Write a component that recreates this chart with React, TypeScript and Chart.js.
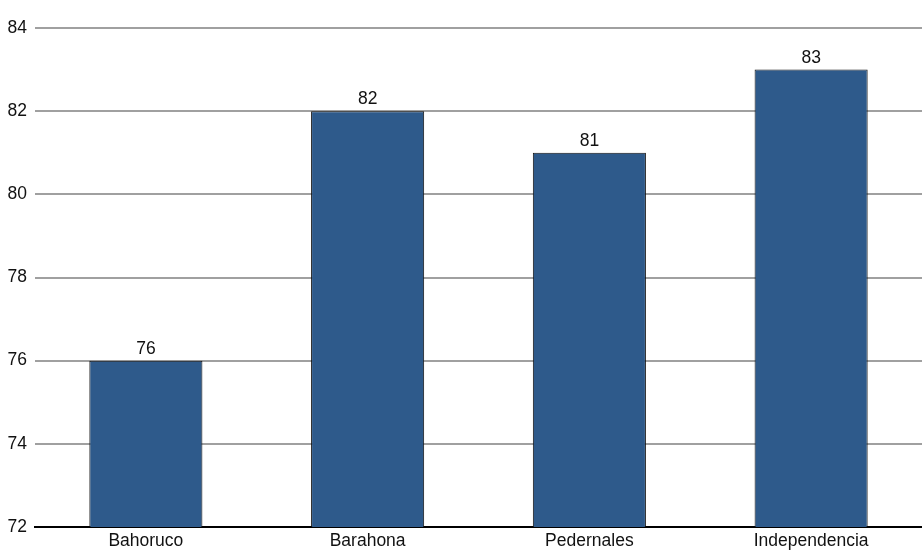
import React, { useEffect, useRef } from "react";
import { Chart, registerables } from "chart.js";

Chart.register(...registerables);

const categories = ["Bahoruco", "Barahona", "Pedernales", "Independencia"];
const values = [76, 82, 81, 83];
const yMin = 72;
const yMax = 84;
const yStep = 2;

const FONT = "'Liberation Sans', Arial, sans-serif";
const SIZE = 17.5;

const valueLabels = {
  id: "valueLabels",
  afterDatasetsDraw(chart: any) {
    const ctx = chart.ctx;
    const meta = chart.getDatasetMeta(0);
    ctx.save();
    ctx.font = `${SIZE}px ${FONT}`;
    ctx.fillStyle = "#111";
    ctx.textAlign = "center";
    ctx.textBaseline = "bottom";
    meta.data.forEach((bar: any, i: number) => {
      ctx.fillText(String(values[i]), bar.x, bar.y - 3);
    });
    ctx.restore();
  },
};

export default function App() {
  const ref = useRef<HTMLCanvasElement | null>(null);
  useEffect(() => {
    document.body.style.margin = "0";
    const chart = new Chart(ref.current as HTMLCanvasElement, {
      type: "bar",
      data: {
        labels: categories,
        datasets: [
          {
            data: values,
            backgroundColor: "#2E5A8B",
            borderColor: "#111",
            borderWidth: 1,
            barPercentage: 0.51,
            categoryPercentage: 1,
          },
        ],
      },
      plugins: [valueLabels],
      options: {
        animation: false,
        responsive: false,
        maintainAspectRatio: false,
        layout: { padding: { top: 28, left: 0, right: 0, bottom: 0 } },
        plugins: { legend: { display: false }, tooltip: { enabled: false } },
        scales: {
          x: {
            grid: { display: false, drawTicks: false },
            border: { display: true, color: "#000", width: 2 },
            ticks: { color: "#111", font: { family: FONT, size: SIZE, lineHeight: 1 }, padding: 5, maxRotation: 0 },
            afterFit(scale: any) {
              scale.height = 25;
            },
          },
          y: {
            min: yMin,
            max: yMax,
            grid: { color: "#a0a0a0", lineWidth: 2, drawTicks: false },
            border: { display: false },
            ticks: {
              stepSize: yStep,
              color: "#111",
              font: { family: FONT, size: SIZE },
              padding: 8,
            },
            afterFit(scale: any) {
              scale.width = 35;
            },
          },
        },
      },
    });
    return () => chart.destroy();
  }, []);
  return (
    <div style={{ position: "absolute", left: 0, top: 0, width: 922, height: 552 }}>
      <canvas ref={ref} width={922} height={552} style={{ width: 922, height: 552 }} />
    </div>
  );
}
